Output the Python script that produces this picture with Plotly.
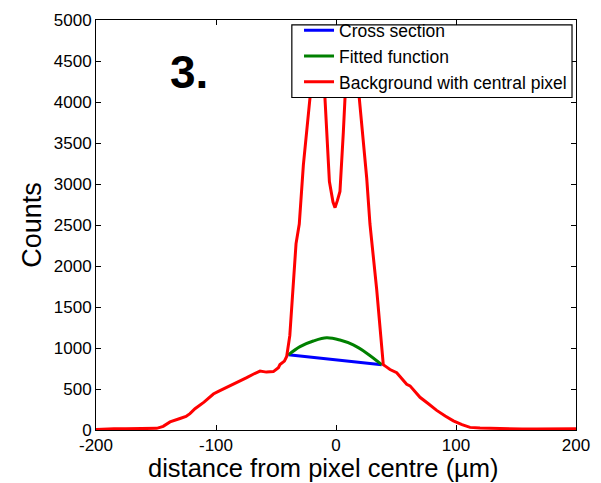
import plotly.graph_objects as go

# Background with central pixel (red) profile
red_x = [-200, -192, -185, -175, -165, -155, -149.4, -144, -138.3, -130, -125, -121.7, -117.5, -110, -102.2,
         -98, -93.9, -85, -80, -74.4, -69, -63.3, -58, -52.2, -48, -46.7, -43, -41.1,
         -38.5, -35.6, -33.3, -30.6, -27.2, -21.7, -15, -9.2, -5.5, -2.5, -0.8, 1.2, 3.3, 6.1, 7.5, 13,
         19.4, 25.6, 28.3, 33.9, 37.5, 39.4, 42, 45, 50.6, 55, 58.9, 61.7, 66, 70, 77, 83.9, 91, 97.8,
         105, 111.7, 120, 128.3, 140, 155, 167, 180, 195, 200]
red_y = [5, 12, 15, 15, 15, 16, 20, 45, 99, 140, 165, 200, 260, 340, 439,
         470, 499, 560, 590, 638, 680, 718, 706, 712, 760, 798, 840, 897,
         1150, 1714, 2273, 2512, 3230, 4047, 4750, 4047, 3030, 2780, 2712, 2800, 2910, 3628, 4047, 4750,
         4047, 3070, 2512, 1714, 1050, 797, 770, 738, 698, 620, 558, 538, 470, 399, 320, 239, 170, 112,
         65, 32, 24, 20, 15, 12, 12, 14, 16, 15]

# Cross section (blue) across the central pixel
blue_x = [-39.7, -2.2, 38.1]
blue_y = [917, 859, 797]

# Fitted function (green)
green_x = [-39.7, -30, -18.9, -7.8, 3.3, 14.4, 25.6, 38.1]
green_y = [917, 1017, 1085, 1124, 1097, 1037, 937, 797]

x_ticks = [-200, -100, 0, 100, 200]
y_ticks = [0, 500, 1000, 1500, 2000, 2500, 3000, 3500, 4000, 4500, 5000]

FONT = "Liberation Sans, Arial, sans-serif"

fig = go.Figure()
fig.add_trace(go.Scatter(x=blue_x, y=blue_y, mode="lines", name="Cross section",
                         line=dict(color="#0000FF", width=3)))
fig.add_trace(go.Scatter(x=green_x, y=green_y, mode="lines", name="Fitted function",
                         line=dict(color="#008000", width=3, shape="spline")))
fig.add_trace(go.Scatter(x=red_x, y=red_y, mode="lines", name="Background with central pixel",
                         line=dict(color="#FF0000", width=3)))

axis_common = dict(showgrid=False, zeroline=False, showline=True, linecolor="black", linewidth=1,
                   mirror="ticks", ticks="inside", ticklen=5, tickcolor="black",
                   tickfont=dict(family=FONT, size=17, color="black"))

fig.update_xaxes(range=[-200, 200], tickvals=x_ticks, ticktext=[str(v) for v in x_ticks],
                 **axis_common)
fig.update_yaxes(range=[0, 5000], tickvals=y_ticks, ticktext=[str(v) for v in y_ticks],
                 title=dict(text="Counts", font=dict(family=FONT, size=27, color="black"), standoff=4),
                 **axis_common)

fig.update_layout(
    width=601, height=483,
    margin=dict(l=96, r=25, t=12, b=53),
    paper_bgcolor="white", plot_bgcolor="white",
    font=dict(family=FONT, color="black"),
    legend=dict(x=0.9917, y=1.0185, xanchor="right", yanchor="top",
                bgcolor="rgba(0,0,0,0)", borderwidth=0,
                font=dict(family=FONT, size=17.5, color="black"),
                tracegroupgap=0, itemwidth=30),
    shapes=[dict(type="rect", xref="paper", yref="paper", x0=0.408, x1=0.9917, y0=0.811, y1=0.988,
                 fillcolor="white", line=dict(color="black", width=1.2), layer="above")],
    annotations=[
        dict(text="<b>3.</b>", x=0.194, y=0.873, xref="paper", yref="paper",
             xanchor="center", yanchor="middle", showarrow=False,
             font=dict(family=FONT, size=46, color="black")),
        dict(text="distance from pixel centre (µm)", x=0.473, y=-0.093, xref="paper", yref="paper",
             xanchor="center", yanchor="middle", showarrow=False,
             font=dict(family=FONT, size=25.5, color="black")),
    ],
)

fig.write_html("out.html")
